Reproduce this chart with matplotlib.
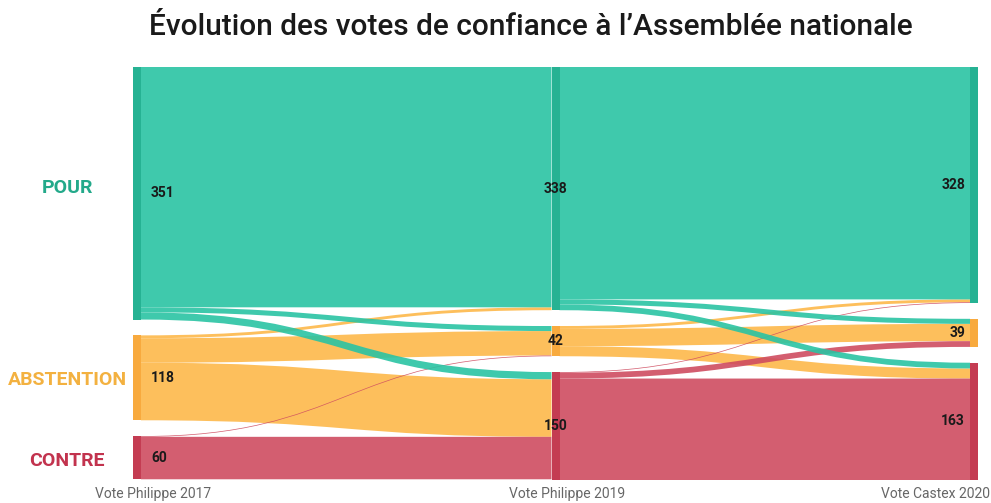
import matplotlib
matplotlib.use("Agg")
import matplotlib.pyplot as plt
from matplotlib.path import Path
from matplotlib.patches import PathPatch, Rectangle

# ---- data ----
stages = ["Vote Philippe 2017", "Vote Philippe 2019", "Vote Castex 2020"]
categories = ["POUR", "ABSTENTION", "CONTRE"]
totals_2017 = [351, 118, 60]
totals_2019 = [338, 42, 150]
totals_2020 = [328, 39, 163]
# flows[source][target]
flows_2017_2019 = [[334, 7, 10],
                   [4, 34, 80],
                   [0, 1, 59]]
flows_2019_2020 = [[323, 7, 8],
                   [4, 24, 14],
                   [1, 8, 141]]

title = "Évolution des votes de confiance à l\u2019Assemblée nationale"

# ---- style ----
band_colors = ["#2ac3a3", "#fdb84a", "#cf4c60"]
node_colors = ["#26b293", "#f8aa3e", "#c43c52"]
label_colors = ["#23a98a", "#f3b140", "#c2334e"]
GAP = 22.0
W = 8 / 422.5

fig = plt.figure(figsize=(9.91, 5.03), dpi=100)
fig.patch.set_facecolor("white")
ax = fig.add_axes([133 / 991, 23 / 503, 845 / 991, 413 / 503])
ax.set_xlim(0, 2)
ax.set_ylim(574, 0)
ax.axis("off")

columns = [totals_2017, totals_2019, totals_2020]
node_x = [(0, W), (1 - W / 2, 1 + W / 2), (2 - W, 2)]

# node positions
node_top = []
for col in columns:
    tops = []
    y = 0.0
    for v in col:
        tops.append(y)
        y += v + GAP
    node_top.append(tops)


def band(x0, x1, s0, s1, t0, t1, color, z):
    xm = (x0 + x1) / 2
    verts = [(x0, s0), (xm, s0), (xm, t0), (x1, t0),
             (x1, t1), (xm, t1), (xm, s1), (x0, s1), (x0, s0)]
    codes = [Path.MOVETO, Path.CURVE4, Path.CURVE4, Path.CURVE4,
             Path.LINETO, Path.CURVE4, Path.CURVE4, Path.CURVE4, Path.CLOSEPOLY]
    ax.add_patch(PathPatch(Path(verts, codes), facecolor=color, edgecolor="none",
                           alpha=0.9, zorder=z))


order = [1, 2, 0]  # draw abstention, contre, then pour on top
for k, flows in enumerate([flows_2017_2019, flows_2019_2020]):
    src_tops = node_top[k]
    tgt_tops = node_top[k + 1]
    x0 = node_x[k][1]
    x1 = node_x[k + 1][0]
    out_off = {}
    for i in range(3):
        y = src_tops[i]
        for j in range(3):
            out_off[(i, j)] = y
            y += flows[i][j]
    in_off = {}
    for j in range(3):
        y = tgt_tops[j]
        for i in range(3):
            in_off[(i, j)] = y
            y += flows[i][j]
    for zi, i in enumerate(order):
        for j in range(3):
            v = flows[i][j]
            if v <= 0:
                continue
            s0 = out_off[(i, j)]
            t0 = in_off[(i, j)]
            band(x0, x1, s0, s0 + v, t0, t0 + v, band_colors[i], 1 + zi)

# nodes
for c, col in enumerate(columns):
    for i, v in enumerate(col):
        ax.add_patch(Rectangle((node_x[c][0], node_top[c][i]), W, v,
                               facecolor=node_colors[i], edgecolor="none", zorder=5))

# value labels
for c, col in enumerate(columns):
    for i, v in enumerate(col):
        yc = node_top[c][i] + v / 2
        if c == 0:
            x, ha = node_x[0][1] + 10 / 422.5, "left"
        elif c == 1:
            x, ha = 1.0, "center"
        else:
            x, ha = node_x[2][0] - 5 / 422.5, "right"
        ax.text(x, yc, str(v), ha=ha, va="center", fontsize=10, fontweight="bold",
                family="Roboto", color="#1a1a1a", zorder=6)

# category labels
cat_y = [188, 380, 461]
for i, name in enumerate(categories):
    fig.text(67 / 991, 1 - cat_y[i] / 503, name, ha="center", va="center",
             fontsize=14, fontweight="bold", family="Roboto", color=label_colors[i])

# stage labels
stage_pos = [(153, "center"), (567, "center"), (990, "right")]
for (px, ha), s in zip(stage_pos, stages):
    fig.text(px / 991, 1 - 494 / 503, s, ha=ha, va="center", fontsize=10,
             family="Roboto", color="#666666")

fig.text(531 / 991, 1 - 27 / 503, title, ha="center", va="center", fontsize=21.5,
         family="Roboto", fontweight="medium", color="#1a1a1a")

fig.savefig("out.png", dpi=100, facecolor="white")
